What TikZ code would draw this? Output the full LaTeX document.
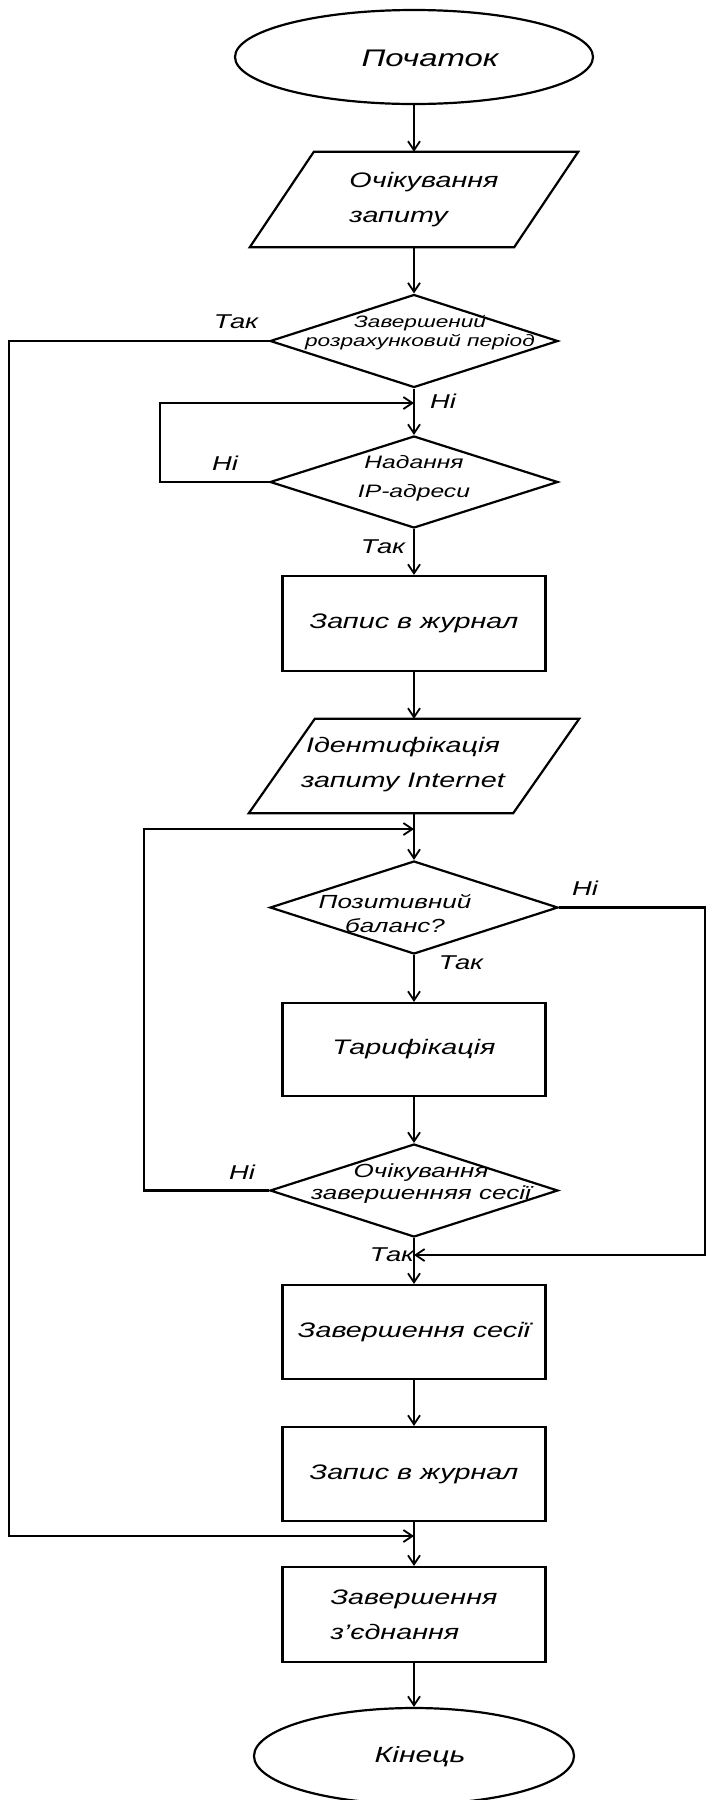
\documentclass[tikz,border=0pt]{standalone}
\usepackage{fontspec}
\setmainfont[FakeStretch=1.37]{Liberation Sans}
\usetikzlibrary{shapes.geometric,arrows.meta}
\newcommand\drawpara[2]{\draw[line width=2.2pt] ([xshift=#2]#1.north west) -- ([xshift=#2]#1.north east) -- ([xshift=-#2]#1.south east) -- ([xshift=-#2]#1.south west) -- cycle;}
\tikzset{
  base/.style={draw=black, line width=2.2pt, inner sep=0pt},
  terminal/.style={base, ellipse},
  procbox/.style={base, rectangle, minimum width=263pt, font=\itshape\fontsize{21}{35}\selectfont, align=center},
  iobox/.style={rectangle, draw=none, minimum width=264pt, inner sep=0pt},
  decision/.style={base, diamond, minimum width=288pt, minimum height=93pt},
  txt/.style={inner sep=0pt, align=center},
  lbl/.style={inner sep=0pt, font=\itshape\fontsize{20}{24}\selectfont},
  arr/.style={line width=2.2pt, -{Straight Barb[length=9pt,width=12pt,line width=1.8pt]}}
}
\begin{document}
\begin{tikzpicture}[x=1pt,y=-1pt]
\useasboundingbox (0,0) rectangle (706,1800);
\fill[white] (0,0) rectangle (706,1800);

% shapes
\node[terminal, minimum width=358pt, minimum height=94pt] (start) at (414,57) {};
\node[txt, font=\itshape\fontsize{24}{28}\selectfont] (startt) at (430,58) {Початок};

\node[iobox, minimum height=95pt] (p1) at (414,199.5) {};
\drawpara{p1}{32pt}
\node[txt, align=left, font=\itshape\fontsize{21}{35}\selectfont] (p1t) at (424,199.5) {Очікування\\запиту};

\node[decision] (d1) at (414,341) {};
\node[txt, font=\itshape\fontsize{16.5}{19}\selectfont] (d1t) at (420,333) {Завершений\\розрахунковий період};

\node[decision, minimum height=92pt] (d2) at (414,482) {};
\node[txt, font=\itshape\fontsize{18}{29}\selectfont] (d2t) at (414,478) {Надання\\IP-адреси};

\node[procbox, minimum height=95pt] (r1) at (414,623.5) {Запис в журнал};

\node[iobox, minimum height=94pt] (p2) at (414,766) {};
\drawpara{p2}{33pt}
\node[txt, font=\itshape\fontsize{21}{35}\selectfont] (p2t) at (403,764.5) {Ідентифікація\\запиту Internet};

\node[decision] (d3) at (414,907.5) {};
\node[txt, font=\itshape\fontsize{19}{24}\selectfont] (d3t) at (395,914) {Позитивний\\баланс?};

\node[procbox, minimum height=93pt] (r2) at (414,1049.5) {Тарифікація};

\node[decision] (d4) at (414,1190.5) {};
\node[txt, font=\itshape\fontsize{19}{22}\selectfont] (d4t) at (421,1184) {Очікування\\завершенняя сесії};

\node[procbox, minimum height=94pt] (r3) at (414,1332) {Завершення сесії};
\node[procbox, minimum height=94pt] (r4) at (414,1474) {Запис в журнал};
\node[procbox, minimum height=95pt, align=left] (r5) at (414,1614.5) {Завершення\\з{\char"0027}єднання};

\node[terminal, minimum width=320pt, minimum height=96pt] (end) at (414,1756) {};
\node[txt, font=\itshape\fontsize{22}{26}\selectfont] (endt) at (420,1757) {Кінець};

% junctions
\coordinate (j1) at (414,403);
\coordinate (j2) at (414,829);
\coordinate (j4) at (414,1255);
\coordinate (j3) at (414,1536);

% main flow
\draw[arr] (start.south) -- (p1.north);
\draw[arr] (p1.south) -- (d1.north);
\draw[arr] (d1.south) -- (d2.north);
\draw[arr] (d2.south) -- (r1.north);
\draw[arr] (r1.south) -- (p2.north);
\draw[arr] (p2.south) -- (d3.north);
\draw[arr] (d3.south) -- (r2.north);
\draw[arr] (r2.south) -- (d4.north);
\draw[arr] (d4.south) -- (r3.north);
\draw[arr] (r3.south) -- (r4.north);
\draw[arr] (r4.south) -- (r5.north);
\draw[arr] (r5.south) -- (end.north);

% loops and bypasses
\draw[arr] (d2.west) -- ++(-109,0) |- (j1);
\draw[arr] (d4.west) -- ++(-125,0) |- (j2);
\draw[arr] (d1.west) -- ++(-260,0) |- (j3);
\draw[arr] (d3.east) -- ++(146,0) |- (j4);

% labels
\node[lbl] (l1) at (236,322) {Так};
\node[lbl] (l2) at (443,401) {Ні};
\node[lbl] (l3) at (225,463) {Ні};
\node[lbl] (l4) at (383,547) {Так};
\node[lbl] (l5) at (585,888) {Ні};
\node[lbl] (l6) at (461,963) {Так};
\node[lbl] (l7) at (242,1172) {Ні};
\node[lbl] (l8) at (392,1255) {Так};
\end{tikzpicture}
\end{document}
